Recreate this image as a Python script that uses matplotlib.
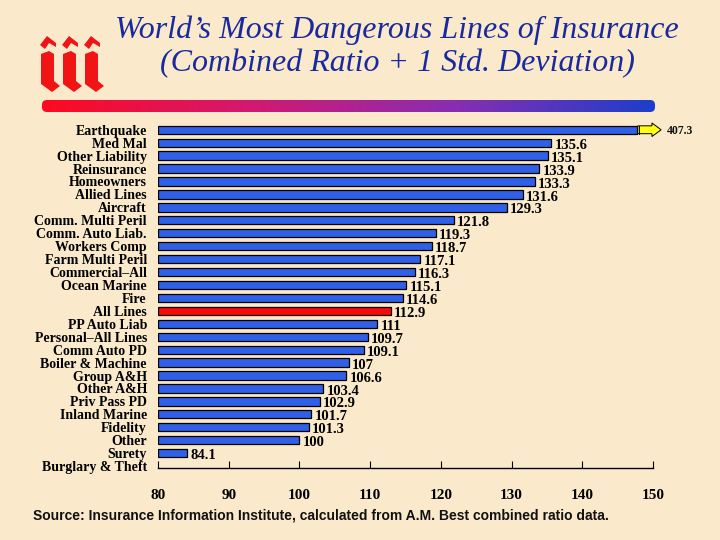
import matplotlib
matplotlib.use("Agg")
import matplotlib.pyplot as plt
import numpy as np
from matplotlib.colors import LinearSegmentedColormap
from matplotlib.patches import FancyBboxPatch, FancyArrow, Polygon

categories = ["Earthquake", "Med Mal", "Other Liability", "Reinsurance", "Homeowners",
              "Allied Lines", "Aircraft", "Comm. Multi Peril", "Comm. Auto Liab.",
              "Workers Comp", "Farm Multi Peril", "Commercial\u2013All", "Ocean Marine",
              "Fire", "All Lines", "PP Auto Liab", "Personal\u2013All Lines", "Comm Auto PD",
              "Boiler & Machine", "Group A&H", "Other A&H", "Priv Pass PD", "Inland Marine",
              "Fidelity", "Other", "Surety", "Burglary & Theft"]
values = [407.3, 135.6, 135.1, 133.9, 133.3, 131.6, 129.3, 121.8, 119.3, 118.7, 117.1,
          116.3, 115.1, 114.6, 112.9, 111, 109.7, 109.1, 107, 106.6, 103.4, 102.9,
          101.7, 101.3, 100, 84.1, np.nan]
value_labels = ["407.3", "135.6", "135.1", "133.9", "133.3", "131.6", "129.3", "121.8",
                "119.3", "118.7", "117.1", "116.3", "115.1", "114.6", "112.9", "111",
                "109.7", "109.1", "107", "106.6", "103.4", "102.9", "101.7", "101.3",
                "100", "84.1", ""]
highlight = "All Lines"
xticks = [80, 90, 100, 110, 120, 130, 140, 150]

BG = "#FAEACB"
BLUE = "#3060E8"
RED = "#F80A0A"
axis_break = 147.8

W, H = 720, 540
fig = plt.figure(figsize=(7.2, 5.4), dpi=100, facecolor=BG)

# Title
fig.text(397/W, 1-30/H, "World\u2019s Most Dangerous Lines of Insurance",
         ha="center", va="center", fontsize=23, style="italic",
         family="Liberation Serif", color="#1A2A9E")
fig.text(397/W, 1-64/H, "(Combined Ratio + 1 Std. Deviation)",
         ha="center", va="center", fontsize=23, style="italic",
         family="Liberation Serif", color="#1A2A9E")

# Logo: three stylised red "i" shapes (pixel coords, y down from top)
dot = [(0, 10), (7, 1), (16, 8), (16, 12), (9, 8), (5, 14)]
stem = [(1, 19), (9, 16), (14, 19), (14, 46), (20, 51), (12, 57), (1, 49)]
for k in range(3):
    x0 = 40 + k * 22
    y0 = 35
    for shape in (dot, stem):
        pts = [((x0 + px) / W, 1 - (y0 + py) / H) for px, py in shape]
        fig.patches.append(Polygon(pts, closed=True, transform=fig.transFigure,
                                   facecolor="#F01414", edgecolor="none"))

# Gradient bar
gax = fig.add_axes([37/W, 1-112/H, (660-37)/W, 12/H])
gax.set_axis_off()
cmap = LinearSegmentedColormap.from_list("g", ["#FF0A1E", "#D41870", "#8A2DB0", "#1A3FCC"])
grad = np.linspace(0, 1, 256).reshape(1, -1)
im = gax.imshow(grad, aspect="auto", cmap=cmap, extent=[0, 1, 0, 1])
gax.set_xlim(0, 1); gax.set_ylim(0, 1)
clip = FancyBboxPatch((0.008, 0.0), 0.984, 1.0, boxstyle="round,pad=0,rounding_size=0.008",
                      transform=gax.transData, facecolor="none", edgecolor="none",
                      mutation_aspect=50)
gax.add_patch(clip)
im.set_clip_path(clip)

# Main axes
ax = fig.add_axes([158/W, 1-468/H, (653-158)/W, (468-122)/H])
ax.set_facecolor(BG)
y = np.arange(len(categories))
drawn = [min(v, axis_break) if not np.isnan(v) else np.nan for v in values]
colors = [RED if c == highlight else BLUE for c in categories]
bar_h = 0.64
for yi, v, c in zip(y, drawn, colors):
    if np.isnan(v):
        continue
    ax.barh(yi, v - 80, left=80, height=bar_h, color=c, edgecolor="black", linewidth=0.9)

for yi, v, d, lab in zip(y, values, drawn, value_labels):
    if np.isnan(v) or not lab:
        continue
    if v > axis_break:
        ax.add_patch(FancyArrow(d + 0.05, yi, 151.1 - d, 0, width=bar_h * 0.95,
                                head_width=1.05, head_length=1.3, length_includes_head=True,
                                facecolor="#FFFF10", edgecolor="black", linewidth=0.7,
                                clip_on=False, zorder=4))
        ax.plot([d + 0.25, d + 0.25], [yi - bar_h/2, yi + bar_h/2], color="black",
                lw=0.7, clip_on=False, zorder=5)
        ax.text(152.0, yi + 0.1, lab, ha="left", va="center", fontsize=8.5,
                family="Liberation Serif", weight="bold", color="#111111", clip_on=False)
    else:
        ax.text(d + 0.45, yi + 0.2, lab, ha="left", va="center", fontsize=10.5,
                family="Liberation Serif", weight="bold", color="black")

ax.set_xlim(80, 150)
ax.set_ylim(26.15, -0.6)
ax.set_yticks(y)
ax.set_yticklabels(categories, family="Liberation Serif", weight="bold", fontsize=10)
ax.tick_params(axis="y", length=0, pad=8)
ax.set_xticks(xticks)
ax.set_xticklabels([str(t) for t in xticks], family="Liberation Serif", weight="bold",
                   fontsize=11)
ax.tick_params(axis="x", direction="in", length=5, width=0.8, pad=15)
for s in ["left", "top", "right"]:
    ax.spines[s].set_visible(False)
ax.spines["bottom"].set_linewidth(1.0)

fig.text(33/W, 1-516/H,
         "Source: Insurance Information Institute, calculated from A.M. Best combined ratio data.",
         ha="left", va="center", fontsize=10, family="Liberation Sans", weight="bold",
         color="#111111")

fig.savefig("out.png", dpi=100, facecolor=BG)
